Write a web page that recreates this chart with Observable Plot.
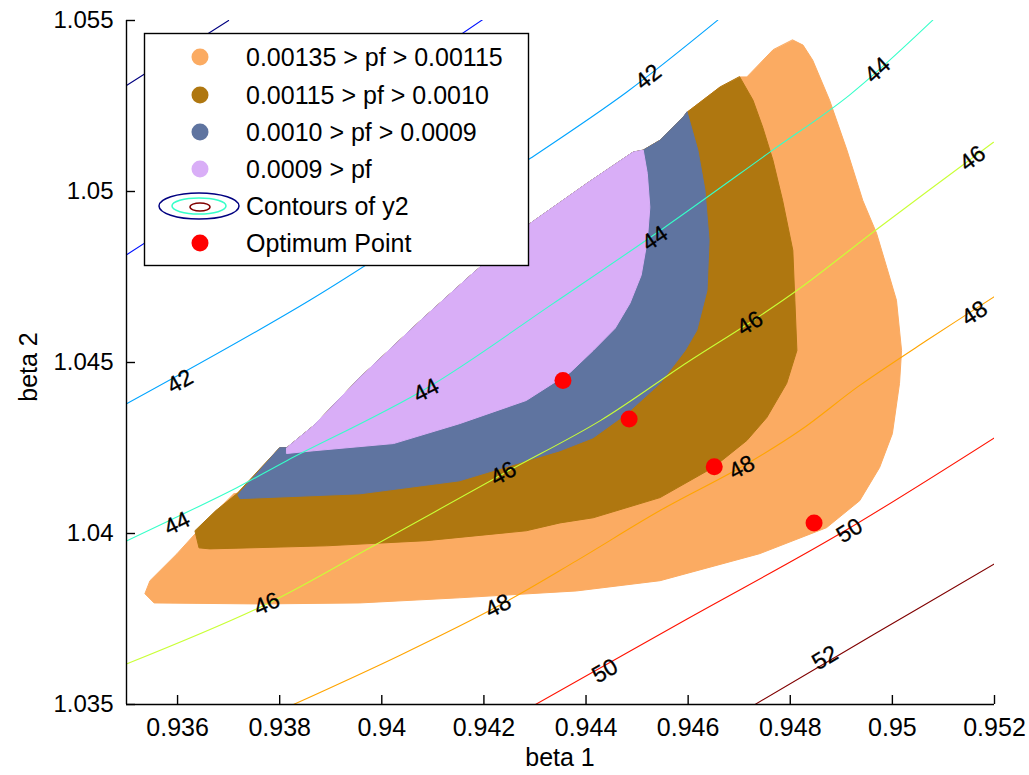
<!DOCTYPE html>
<html>
<head>
<meta charset="utf-8">
<script src="https://cdn.jsdelivr.net/npm/d3@7"></script>
<script src="https://cdn.jsdelivr.net/npm/@observablehq/plot@0.6"></script>
<style>
  html, body { margin: 0; padding: 0; background: #fff; }
  #chart { width: 1029px; height: 775px; }
</style>
</head>
<body>
<div id="chart"></div>
<script>
// ---------- axes ----------
const xTicks = [0.936, 0.938, 0.94, 0.942, 0.944, 0.946, 0.948, 0.95, 0.952];
const xTickLabels = ["0.936", "0.938", "0.94", "0.942", "0.944", "0.946", "0.948", "0.95", "0.952"];
const yTicks = [1.035, 1.04, 1.045, 1.05, 1.055];
const yTickLabels = ["1.035", "1.04", "1.045", "1.05", "1.055"];
const xLabel = "beta 1";
const yLabel = "beta 2";

// ---------- pf regions (outer outline of each band incl. inner bands) ----------
const orangeX = [0.94805,0.94825,0.94844,0.94877,0.94911,0.94942,0.94969,0.94989,0.95008,0.95018,0.95014,0.95000,0.94975,0.94936,0.94871,0.94740,0.94545,0.94381,0.94152,0.93957,0.93761,0.93554,0.93536,0.93546,0.93599,0.93663,0.93710,0.93722,0.93800,0.93814,0.93867,0.93957,0.94076,0.94174,0.94291,0.94402,0.94492,0.94512,0.94545,0.94590,0.94598,0.94662,0.94701,0.94715,0.94766];
const orangeY = [1.05443,1.05428,1.05384,1.05267,1.05121,1.04974,1.04878,1.04778,1.04682,1.04535,1.04439,1.04292,1.04193,1.04096,1.04017,1.03941,1.03862,1.03832,1.03812,1.03797,1.03794,1.03797,1.03824,1.03862,1.03941,1.04046,1.04116,1.04119,1.04251,1.04251,1.04316,1.04456,1.04623,1.04755,1.04907,1.05024,1.05115,1.05121,1.05150,1.05217,1.05232,1.05305,1.05335,1.05335,1.05414];

const brownX = [0.94701,0.94727,0.94746,0.94766,0.94785,0.94805,0.94809,0.94813,0.94793,0.94754,0.94715,0.94649,0.94545,0.94414,0.94349,0.94283,0.94087,0.93892,0.93663,0.93642,0.93634,0.93675,0.93716,0.93800,0.93814,0.93867,0.93957,0.94076,0.94174,0.94291,0.94402,0.94492,0.94512,0.94545,0.94590,0.94598,0.94662];
const brownY = [1.05335,1.05267,1.05188,1.05092,1.04974,1.04828,1.04682,1.04535,1.04439,1.04339,1.04272,1.04193,1.04105,1.04046,1.04031,1.04008,1.03979,1.03964,1.03955,1.03958,1.04008,1.04067,1.04116,1.04251,1.04251,1.04316,1.04456,1.04623,1.04755,1.04907,1.05024,1.05115,1.05121,1.05150,1.05217,1.05232,1.05305];

const blueX = [0.94598,0.94619,0.94633,0.94641,0.94637,0.94617,0.94594,0.94545,0.94480,0.94414,0.94349,0.94283,0.94152,0.93957,0.93722,0.93718,0.93800,0.93814,0.93867,0.93957,0.94076,0.94174,0.94291,0.94402,0.94492,0.94512,0.94545,0.94590];
const blueY = [1.05232,1.05121,1.05004,1.04857,1.04711,1.04594,1.04535,1.04439,1.04351,1.04280,1.04242,1.04213,1.04154,1.04116,1.04102,1.04113,1.04251,1.04251,1.04316,1.04456,1.04623,1.04755,1.04907,1.05024,1.05115,1.05121,1.05150,1.05217];

const lavenderX = [0.93814,0.93867,0.93957,0.94076,0.94174,0.94291,0.94402,0.94492,0.94512,0.94520,0.94525,0.94520,0.94508,0.94486,0.94457,0.94414,0.94369,0.94283,0.94152,0.94023,0.93867,0.93814];
const lavenderY = [1.04251,1.04316,1.04456,1.04623,1.04755,1.04907,1.05024,1.05115,1.05121,1.05053,1.04954,1.04857,1.04755,1.04673,1.04600,1.04535,1.04471,1.04389,1.04321,1.04263,1.04242,1.04234];

const regionNames = ["0.00135 > pf > 0.00115", "0.00115 > pf > 0.0010", "0.0010 > pf > 0.0009", "0.0009 > pf"];
const regionColors = ["#FBAB62", "#AF7710", "#5F74A0", "#D9AEF7"];

// ---------- contours of y2 ----------
const contourLevels = [38, 40, 42, 44, 46, 48, 50, 52];
const contourColors = ["#000080", "#0012FF", "#00A4FF", "#36FFC9", "#C9FF36", "#FFA400", "#FF1200", "#800000"];
const c38X = [0.93500, 0.93700];
const c38Y = [1.05310, 1.05500];
const c40X = [0.93501, 0.93841, 0.94199];
const c40Y = [1.04816, 1.05144, 1.05504];
const c42X = [0.93501, 0.93859, 0.94134, 0.94291, 0.94480, 0.94658];
const c42Y = [1.04380, 1.04682, 1.04945, 1.05097, 1.05291, 1.05501];
const c44X = [0.93501, 0.93716, 0.93814, 0.94087, 0.94336, 0.94551, 0.94760, 0.94916, 0.95079];
const c44Y = [1.03979, 1.04134, 1.04213, 1.04424, 1.04673, 1.04892, 1.05115, 1.05282, 1.05501];
const c46X = [0.93501, 0.93775, 0.93984, 0.94238, 0.94428, 0.94598, 0.94721, 0.94819, 0.94969, 0.95198];
const c46Y = [1.03619, 1.03794, 1.03964, 1.04175, 1.04330, 1.04500, 1.04617, 1.04717, 1.04889, 1.05144];
const c48X = [0.93827, 0.94037, 0.94228, 0.94381, 0.94545, 0.94705, 0.94819, 0.94936, 0.95073, 0.95200];
const c48Y = [1.03500, 1.03645, 1.03788, 1.03920, 1.04067, 1.04195, 1.04301, 1.04433, 1.04570, 1.04693];
const c50X = [0.94301, 0.94598, 0.94897, 0.95200];
const c50Y = [1.03500, 1.03750, 1.03999, 1.04280];
const c52X = [0.94731, 0.94965, 0.95200];
const c52Y = [1.03500, 1.03706, 1.03911];

// contour labels
const labelLevels = [42, 42, 44, 44, 44, 44, 46, 46, 46, 46, 48, 48, 48, 50, 50, 52];
const labelX = [0.93605, 0.94522, 0.93599, 0.94087, 0.94535, 0.94971, 0.93775, 0.94238, 0.94721, 0.95157, 0.94228, 0.94705, 0.95161, 0.94437, 0.94916, 0.94868];
const labelY = [1.04444, 1.05335, 1.04029, 1.04418, 1.04863, 1.05355, 1.03794, 1.04175, 1.04614, 1.05097, 1.03788, 1.04193, 1.04644, 1.03598, 1.04008, 1.03636];

// optimum points
const optX = [0.943548, 0.944844, 0.946511, 0.948466];
const optY = [1.044473, 1.043351, 1.041955, 1.040306];

// legend entries
const legendContour = "Contours of y2";
const legendOptimum = "Optimum Point";

// ---------- build ----------
const W = 1029, H = 775, mL = 126, mR = 35, mT = 20, mB = 71;
const xDom = [0.935, 0.952], yDom = [1.035, 1.055];
const kx = (W - mL - mR) / (xDom[1] - xDom[0]);
const ky = (H - mT - mB) / (yDom[1] - yDom[0]);

const zip = (xs, ys) => xs.map((x, i) => ({x, y: ys[i]}));
const regions = [zip(orangeX, orangeY), zip(brownX, brownY), zip(blueX, blueY), zip(lavenderX, lavenderY)];
const contourXs = [c38X, c40X, c42X, c44X, c46X, c48X, c50X, c52X];
const contourYs = [c38Y, c40Y, c42Y, c44Y, c46Y, c48Y, c50Y, c52Y];
const contours = contourXs.map((xs, i) => zip(xs, contourYs[i]));

const labels = labelLevels.map((lev, i) => {
  const ci = contourLevels.indexOf(lev);
  const xs = contourXs[ci], ys = contourYs[ci];
  let j = 0;
  while (j < xs.length - 2 && labelX[i] > xs[j + 1]) j++;
  const slope = ((ys[j + 1] - ys[j]) * ky) / ((xs[j + 1] - xs[j]) * kx);
  return {x: labelX[i], y: labelY[i], text: String(lev), rotate: -Math.atan(slope) * 180 / Math.PI};
});

const font = "'Liberation Sans', Arial, Helvetica, sans-serif";

const plot = Plot.plot({
  width: W, height: H,
  marginLeft: mL, marginRight: mR, marginTop: mT, marginBottom: mB,
  x: {domain: xDom},
  y: {domain: yDom},
  style: {fontFamily: font, background: "white", color: "black", overflow: "visible"},
  marks: [
    ...regions.map((r, i) => Plot.line(r, {x: "x", y: "y", fill: regionColors[i], stroke: regionColors[i], strokeWidth: 1, curve: "linear-closed"})),
    ...contours.map((c, i) => Plot.line(c, {x: "x", y: "y", stroke: contourColors[i], strokeWidth: 1.1, curve: "catmull-rom", clip: true})),
    Plot.text(labels, {x: "x", y: "y", text: "text", rotate: "rotate", fontSize: 23, fill: "black", stroke: "black", strokeWidth: 0.3}),
    Plot.dot(zip(optX, optY), {x: "x", y: "y", r: 8.5, fill: "#FF0000", stroke: "none"}),
    Plot.ruleX([xDom[0]], {stroke: "black", strokeWidth: 1.4}),
    Plot.ruleY([yDom[0]], {stroke: "black", strokeWidth: 1.4}),
    Plot.axisX({ticks: xTicks, tickFormat: d => xTickLabels[xTicks.indexOf(d)], tickSize: -9, tickPadding: 23, fontSize: 25, label: null, strokeWidth: 1.4}),
    Plot.axisY({ticks: yTicks, tickFormat: d => yTickLabels[yTicks.indexOf(d)], tickSize: -9, tickPadding: 22, fontSize: 24, label: null, strokeWidth: 1.4})
  ]
});

const svg = d3.select(plot);
// axis titles
svg.append("text").attr("x", 560).attr("y", 757).attr("text-anchor", "middle").attr("dy", "0.35em")
  .attr("font-family", font).attr("font-size", 25).attr("fill", "black").text(xLabel);
svg.append("text").attr("transform", "translate(28,367) rotate(-90)").attr("text-anchor", "middle").attr("dy", "0.35em")
  .attr("font-family", font).attr("font-size", 25).attr("fill", "black").text(yLabel);

// legend
const lg = svg.append("g").attr("font-family", font).attr("font-size", 25).attr("text-anchor", "start");
lg.append("rect").attr("x", 144.5).attr("y", 33.5).attr("width", 384).attr("height", 232)
  .attr("fill", "white").attr("stroke", "black").attr("stroke-width", 1.4);
const rowY = [57, 95, 132, 169, 206, 243];
regionNames.forEach((name, i) => {
  lg.append("circle").attr("cx", 200).attr("cy", rowY[i]).attr("r", 8.5).attr("fill", regionColors[i]);
  lg.append("text").attr("x", 246).attr("y", rowY[i]).attr("dy", "0.36em").attr("text-anchor", "start").attr("fill", "black").text(name);
});
lg.append("ellipse").attr("cx", 199).attr("cy", rowY[4]).attr("rx", 40).attr("ry", 13).attr("fill", "none").attr("stroke", "#000080").attr("stroke-width", 1.5);
lg.append("ellipse").attr("cx", 199).attr("cy", rowY[4]).attr("rx", 27).attr("ry", 8).attr("fill", "none").attr("stroke", "#36FFC9").attr("stroke-width", 1.5);
lg.append("ellipse").attr("cx", 200).attr("cy", rowY[4] + 1).attr("rx", 10).attr("ry", 4).attr("fill", "none").attr("stroke", "#800000").attr("stroke-width", 1.5);
lg.append("text").attr("x", 246).attr("y", rowY[4]).attr("dy", "0.36em").attr("text-anchor", "start").attr("fill", "black").text(legendContour);
lg.append("circle").attr("cx", 200).attr("cy", rowY[5]).attr("r", 8.5).attr("fill", "#FF0000");
lg.append("text").attr("x", 246).attr("y", rowY[5]).attr("dy", "0.36em").attr("text-anchor", "start").attr("fill", "black").text(legendOptimum);

document.getElementById("chart").appendChild(plot);
</script>
</body>
</html>
